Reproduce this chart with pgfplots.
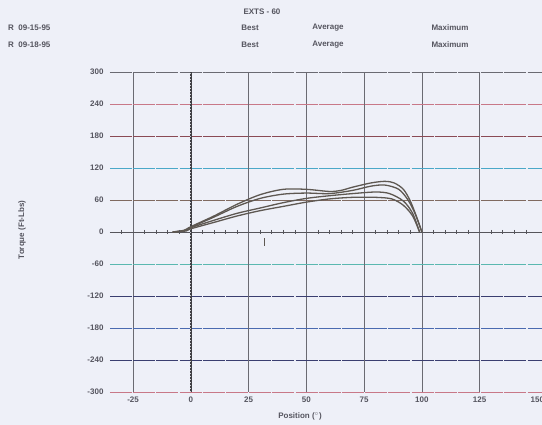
\documentclass[border=0pt]{standalone}
\usepackage{pgfplots}
\pgfplotsset{compat=1.18}
\usepackage{fontspec}
\setmainfont{Liberation Sans}

\definecolor{paper}{HTML}{EEF0F8}
\definecolor{txt}{HTML}{55555F}
\definecolor{curve}{HTML}{5E5852}
\definecolor{vgrid}{HTML}{6A6A72}
\definecolor{gpink}{HTML}{C87888}
\definecolor{gred}{HTML}{8A4A55}
\definecolor{gcyan}{HTML}{4AA8C8}
\definecolor{gbrown}{HTML}{806A60}
\definecolor{ggreen}{HTML}{5AB8B0}
\definecolor{gnavy}{HTML}{3A3E70}
\definecolor{gblue}{HTML}{4A6AB0}
\tikzset{gline/.style={line width=0.9pt, dash pattern=on 22pt off 1.2pt}}

\begin{document}
\begin{tikzpicture}[x=1pt,y=1pt]
  \fill[paper, use as bounding box] (0,0) rectangle (542,425);
  \clip (0,0) rectangle (542,425);

  % header
  \begin{scope}[every node/.style={font=\fontsize{8}{9.5}\selectfont\bfseries, text=txt, inner sep=0}]
    \node at (262,413) {EXTS - 60};
    \node[anchor=west] at (8,397) {R\ \ 09-15-95};
    \node[anchor=west] at (8,380) {R\ \ 09-18-95};
    \node at (250,397) {Best};
    \node at (250,380) {Best};
    \node at (328,397) {Average};
    \node at (328,380) {Average};
    \node at (450,397) {Maximum};
    \node at (450,380) {Maximum};
    \node[rotate=90] at (22,195) {Torque (Ft-Lbs)};
    \node at (300,9) {Position ($^\circ$)};
  \end{scope}

  \begin{axis}[
    at={(110pt,33pt)}, anchor=south west,
    scale only axis,
    width=432pt, height=320pt,
    xmin=-35, xmax=152,
    ymin=-300, ymax=300,
    clip=false,
    axis line style={draw=none},
    major tick length=0pt,
    xtick={-25,0,25,50,75,100,125,150},
    ytick={-300,-240,-180,-120,-60,0,60,120,180,240,300},
    /pgf/number format/assume math mode=true,
    tick label style={font=\fontsize{8}{9.5}\selectfont\bfseries, text=txt},
    yticklabel style={xshift=-3pt},
    xticklabel style={yshift=-1pt},
  ]
    % vertical grid
    \foreach \v in {-25,25,50,75,100,125} {
      \edef\tmp{\noexpand\draw[vgrid, line width=0.7pt] (axis cs:\v,-300) -- (axis cs:\v,300);}
      \tmp
    }
    % horizontal grid, coloured
    \draw[vgrid, gline] (axis cs:-35,300) -- (axis cs:152,300);
    \draw[gpink, gline] (axis cs:-35,240) -- (axis cs:152,240);
    \draw[gred, gline] (axis cs:-35,180) -- (axis cs:152,180);
    \draw[gcyan, gline] (axis cs:-35,120) -- (axis cs:152,120);
    \draw[gbrown, gline] (axis cs:-35,60) -- (axis cs:152,60);
    \draw[ggreen, gline] (axis cs:-35,-60) -- (axis cs:152,-60);
    \draw[gnavy, gline] (axis cs:-35,-120) -- (axis cs:152,-120);
    \draw[gblue, gline] (axis cs:-35,-180) -- (axis cs:152,-180);
    \draw[gnavy, gline] (axis cs:-35,-240) -- (axis cs:152,-240);
    \draw[gpink, gline] (axis cs:-35,-300) -- (axis cs:152,-300);
    % zero line with small ticks
    \draw[vgrid!80!black, line width=0.9pt] (axis cs:-35,0) -- (axis cs:152,0);
    \addplot[only marks, mark=|, mark size=2pt, vgrid!80!black, mark options={line width=0.6pt}]
      coordinates {(-30,0) (-20,0) (-15,0) (-10,0) (-5,0) (5,0) (10,0) (15,0) (20,0)
        (30,0) (35,0) (40,0) (45,0) (55,0) (60,0) (65,0) (70,0) (80,0) (85,0) (90,0)
        (95,0) (105,0) (110,0) (115,0) (120,0) (130,0) (135,0) (140,0) (145,0)};
    % bold line at 0
    \draw[vgrid!60!black, line width=2.2pt] (axis cs:0,-300) -- (axis cs:0,300);
    \draw[paper!70!gray, line width=1pt, dash pattern=on 1pt off 2pt] (axis cs:0,-300) -- (axis cs:0,300);

    % torque curves
    \addplot[curve, line width=1.3pt, smooth] coordinates {
      (-8,0) (-3,3) (0,10) (10,30) (20,52) (30,70) (40,80) (50,80) (60,76) (65,78)
      (70,84) (78,92) (84,95) (88,92) (92,80) (95,58) (98,25) (100,0)};
    \addplot[curve, line width=1.3pt, smooth] coordinates {
      (-8,0) (-3,3) (0,9) (10,28) (20,48) (30,63) (40,71) (50,73) (60,72) (70,78)
      (78,86) (84,88) (90,80) (94,60) (97,35) (100,0)};
    \addplot[curve, line width=1.3pt, smooth] coordinates {
      (-7,0) (-2,3) (0,8) (10,22) (20,35) (30,45) (40,55) (50,63) (60,68) (70,72)
      (80,75) (86,72) (92,58) (96,35) (99,0)};
    \addplot[curve, line width=1.3pt, smooth] coordinates {
      (-7,0) (-2,2) (0,6) (10,18) (20,30) (30,40) (40,48) (50,56) (60,62) (70,65)
      (80,65) (87,62) (92,50) (96,30) (99,0)};
    \addplot[curve, line width=0.6pt] coordinates {(32,-12) (32,-26)};
  \end{axis}
\end{tikzpicture}
\end{document}
